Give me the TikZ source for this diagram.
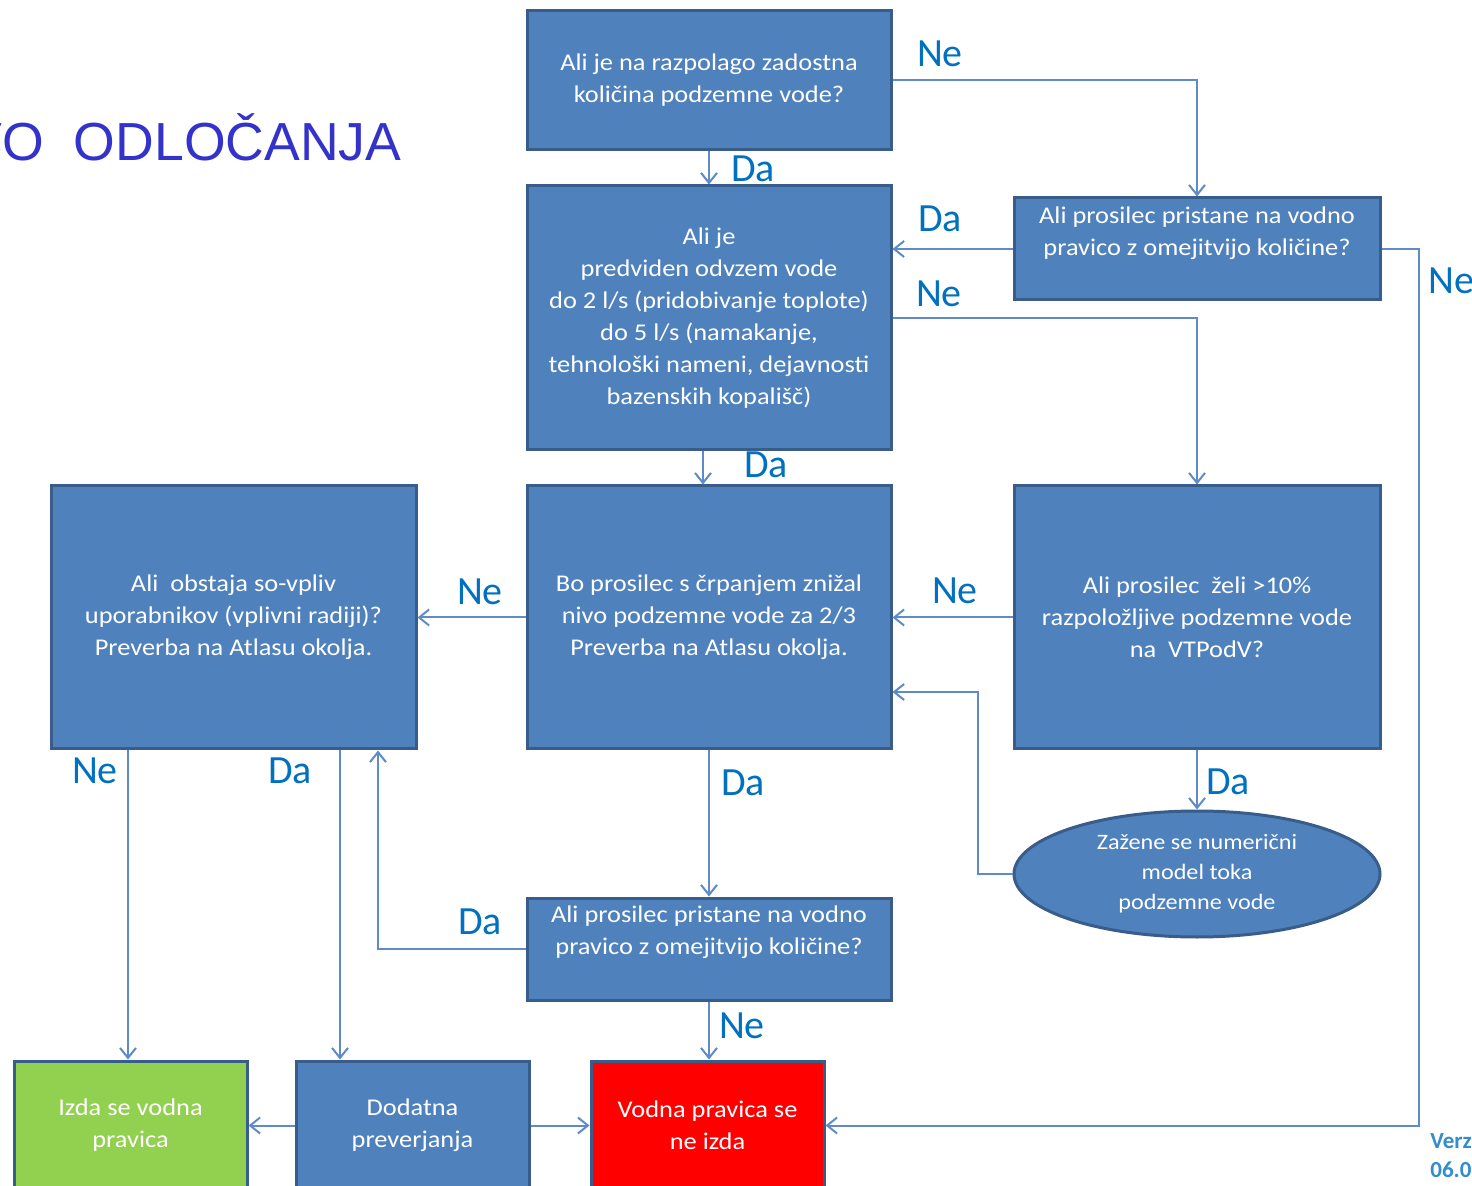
\documentclass[tikz,border=0pt]{standalone}
\usepackage{fontspec}
\setmainfont{Carlito}
\newfontfamily\boxfont[FakeStretch=1.1]{Carlito}
\newfontfamily\titlefont{Liberation Sans}
\usetikzlibrary{shapes.geometric,arrows.meta}
\definecolor{boxfill}{RGB}{79,129,189}
\definecolor{boxline}{RGB}{56,93,138}
\definecolor{conn}{RGB}{95,140,200}
\definecolor{lbl}{RGB}{0,112,192}
\definecolor{titleblue}{RGB}{51,51,204}
\definecolor{okgreen}{RGB}{146,208,80}
\tikzset{
  flowbox/.style={draw=boxline, line width=1.5pt, fill=boxfill, text=white, align=center,
    inner sep=0pt, font=\boxfont\fontsize{12}{16}\selectfont},
  boxtext/.style={text=white, align=center, font=\boxfont\fontsize{12}{16}\selectfont},
  arr/.style={draw=conn, line width=1pt, -{Straight Barb[length=5pt,width=8pt]}},
  lab/.style={text=lbl, font=\fontsize{20}{22}\selectfont, inner sep=0pt},
}
\begin{document}
\begin{tikzpicture}[x=0.5pt,y=-0.5pt]
\clip (0,0) rectangle (1472,1186);
\fill[white] (0,0) rectangle (1472,1186);

% title (cut at left edge)
\node[anchor=base east, text=titleblue, font=\titlefont\fontsize{26.8}{30}\selectfont, inner sep=0pt] (title) at (402,161) {DREVO\ \ ODLOČANJA};

% boxes
\node[flowbox, minimum width=182pt, minimum height=69.5pt] (b1) at (709,80.5)
  {Ali je na razpolago zadostna\\količina podzemne vode?};
\node[flowbox, minimum width=182pt, minimum height=132pt] (b2) at (709,318)
  {Ali je\\predviden odvzem vode\\do 2 l/s (pridobivanje toplote)\\do 5 l/s (namakanje,\\tehnološki nameni, dejavnosti\\bazenskih kopališč)};
\node[flowbox, minimum width=183pt, minimum height=51pt,
  label={[boxtext, yshift=8pt]center:{Ali prosilec pristane na vodno\\pravico z omejitvijo količine?}}] (b3) at (1197,249) {};
\node[flowbox, minimum width=182.5pt, minimum height=131.5pt] (b4) at (233.5,617.5)
  {Ali\ \ obstaja so-vpliv\\uporabnikov (vplivni radiji)?\\Preverba na Atlasu okolja.};
\node[flowbox, minimum width=182pt, minimum height=131.5pt] (b5) at (709,617.5)
  {Bo prosilec s črpanjem znižal\\nivo podzemne vode za 2/3\\Preverba na Atlasu okolja.};
\node[flowbox, minimum width=183pt, minimum height=131.5pt] (b6) at (1197,617.5)
  {Ali prosilec\ \ želi >10\%\\razpoložljive podzemne vode\\na\ \ VTPodV?};
\node[flowbox, ellipse, minimum width=183pt, minimum height=63pt, font=\boxfont\fontsize{11}{15}\selectfont] (ell) at (1197,874)
  {Zažene se numerični\\model toka\\podzemne vode};
\node[flowbox, minimum width=182pt, minimum height=51pt,
  label={[boxtext, yshift=8.25pt]center:{Ali prosilec pristane na vodno\\pravico z omejitvijo količine?}}] (b7) at (709,949) {};
\node[flowbox, fill=okgreen, minimum width=116.5pt, minimum height=64.5pt] (green) at (130.5,1125.5)
  {Izda se vodna\\pravica};
\node[flowbox, minimum width=116.5pt, minimum height=64.5pt] (dod) at (412.5,1125.5)
  {Dodatna\\preverjanja};
\node[flowbox, fill=red, minimum width=116.5pt, minimum height=64.5pt] (red) at (707.5,1125.5)
  {Vodna pravica se\\ne izda};

% connectors
\draw[arr] (b1.east) -| (b3.north);
\draw[arr] (b1.south) -- (b2.north);
\draw[arr] (b3.west) -- (b2.east |- b3.west);
\draw[arr] (b3.east) -- ++(37,0) |- (red.east);
\draw[arr] (b2.east) -| (b6.north);
\draw[arr] ([xshift=-3pt]b2.south) -- ([xshift=-3pt]b5.north);
\draw[arr] (b6.west) -- (b5.east);
\draw[arr] (b6.south) -- (ell.north);
\draw[arr] (ell.west) -- ++(-35,0) |- (b5.east |- 0,692);
\draw[arr] (b5.west) -- (b4.east);
\draw[arr] (b5.south) -- (b7.north);
\draw[arr] (b7.west) -| (b4.south -| 378,0);
\draw[arr] (b7.south) -- (b7.south |- red.north);
\draw[arr] (b4.south -| 128,0) -- (green.north -| 128,0);
\draw[arr] (b4.south -| 340,0) -- (dod.north -| 340,0);
\draw[arr] (dod.west) -- (green.east);
\draw[arr] (dod.east) -- (red.west);

% labels
\node[lab] (l1) at (940,54) {Ne};
\node[lab] (l2) at (753,169) {Da};
\node[lab] (l3) at (940,219) {Da};
\node[lab, anchor=west] (l4) at (1428,281) {Ne};
\node[lab] (l5) at (939,294) {Ne};
\node[lab] (l6) at (766,465) {Da};
\node[lab] (l7) at (955,591) {Ne};
\node[lab] (l8) at (1228,782) {Da};
\node[lab] (l9) at (480,592) {Ne};
\node[lab] (l10) at (743,783) {Da};
\node[lab] (l11) at (480,922) {Da};
\node[lab] (l12) at (742,1026) {Ne};
\node[lab] (l13) at (95,771) {Ne};
\node[lab] (l14) at (290,771) {Da};

% version note (cut at right edge)
\node[anchor=west, text=lbl!80, font=\fontsize{11.5}{14.5}\selectfont\bfseries, align=left, inner sep=0pt] (ver) at (1430,1156) {Verz\\06.0};
\end{tikzpicture}
\end{document}
